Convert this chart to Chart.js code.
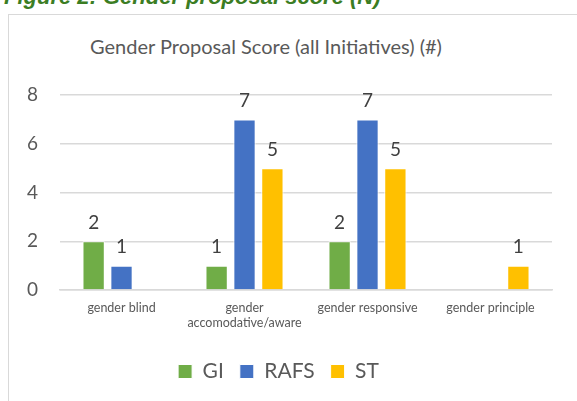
<!DOCTYPE html>
<html>
<head>
<meta charset="utf-8">
<script src="https://cdn.jsdelivr.net/npm/chart.js@4"></script>
<style>
  html, body { margin: 0; padding: 0; background: #fff; overflow: hidden; }
  #wrap { position: relative; width: 577px; height: 401px; }
  #caption {
    position: absolute; left: 4px; top: -16px; white-space: nowrap;
    font: italic bold 22px "Liberation Sans", Arial, sans-serif; color: #3b7d23;
  }
  #frame {
    position: absolute; left: 8px; top: 14px; width: 600px; height: 400px;
    border-top: 1px solid #d9d9d9; border-left: 1px solid #d9d9d9;
  }
  #title {
    position: absolute; left: 0; width: 532px; top: 34px; text-align: center;
    font: 20px Lato, "Open Sans", sans-serif; color: #595959;
  }
  canvas { position: absolute; left: 0; top: 0; }
</style>
</head>
<body>
<div id="wrap">
  <div id="caption">Figure 2: Gender proposal score (N)</div>
  <div id="frame"></div>
  <div id="title">Gender Proposal Score (all Initiatives) (#)</div>
  <canvas id="chart" width="577" height="401"></canvas>
</div>
<script>
  // categories and series
  const categories = ['gender blind', ['gender', 'accomodative/aware'], 'gender responsive', 'gender principle'];
  const giValues = [2, 1, 2, null];
  const rafsValues = [1, 7, 7, null];
  const stValues = [null, 5, 5, 1];
  const yTicks = [0, 2, 4, 6, 8];

  const FONT = 'Lato, "Open Sans", sans-serif';

  // value labels above each bar
  const barLabels = {
    id: 'barLabels',
    afterDatasetsDraw(chart) {
      const ctx = chart.ctx;
      ctx.save();
      ctx.font = '19px ' + FONT;
      ctx.fillStyle = '#404040';
      ctx.textAlign = 'center';
      ctx.textBaseline = 'bottom';
      chart.data.datasets.forEach((ds, i) => {
        chart.getDatasetMeta(i).data.forEach((bar, j) => {
          const v = ds.data[j];
          if (v == null) return;
          ctx.fillText(String(v), bar.x, bar.y - 9);
        });
      });
      ctx.restore();
    },
  };

  const bar = (label, data, color) => ({
    label, data, backgroundColor: color, borderColor: '#ffffff', borderWidth: 1,
    categoryPercentage: 0.68, barPercentage: 0.8,
  });

  new Chart(document.getElementById('chart'), {
    type: 'bar',
    data: {
      labels: categories,
      datasets: [
        bar('GI', giValues, '#70ad47'),
        bar('RAFS', rafsValues, '#4472c4'),
        bar('ST', stValues, '#ffc000'),
      ],
    },
    options: {
      responsive: false,
      animation: false,
      layout: { padding: { left: 5, right: 25, top: 95, bottom: 9 } },
      plugins: {
        title: { display: false },
        tooltip: { enabled: false },
        legend: {
          display: true,
          position: 'bottom',
          labels: {
            boxWidth: 14, boxHeight: 14, padding: 16,
            color: '#595959', font: { size: 21, family: FONT },
          },
        },
      },
      scales: {
        x: {
          grid: { display: false },
          border: { color: '#d9d9d9', width: 1.5 },
          ticks: { color: '#595959', font: { size: 12.5, family: FONT }, maxRotation: 0, padding: 2 },
          afterFit: axis => { axis.height += 13; },
        },
        y: {
          min: 0, max: 8,
          afterBuildTicks: axis => { axis.ticks = yTicks.map(v => ({ value: v })); },
          grid: { color: '#d9d9d9', lineWidth: 1.5, drawTicks: false },
          border: { display: false },
          ticks: { color: '#595959', font: { size: 19, family: FONT }, padding: 22 },
        },
      },
    },
    plugins: [barLabels],
  });
</script>
</body>
</html>
